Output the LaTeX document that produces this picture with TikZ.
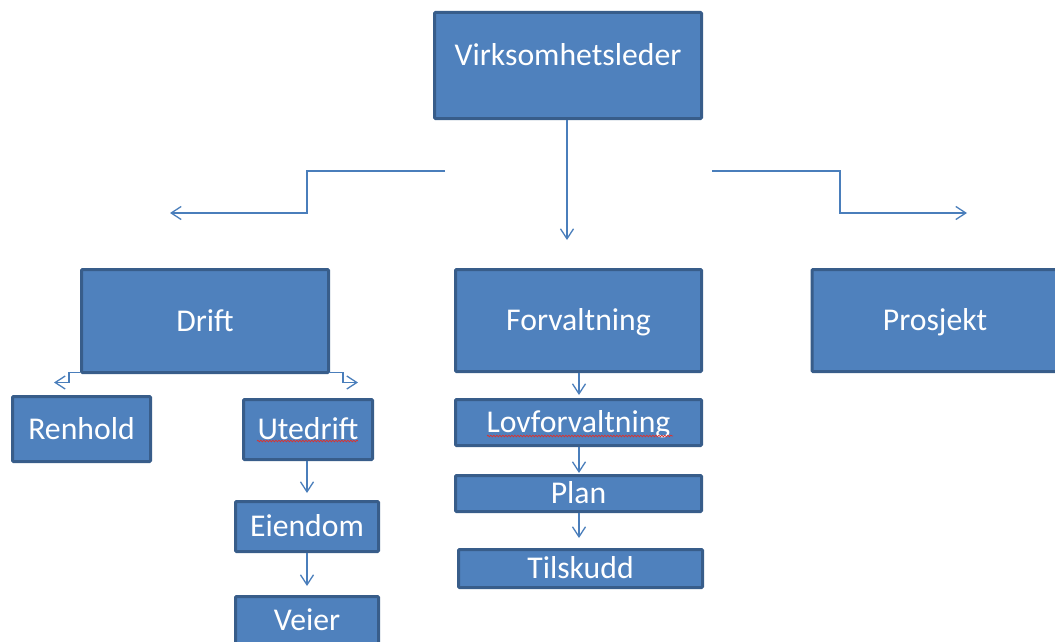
\documentclass[tikz,border=0pt]{standalone}
\usepackage{fontspec}
\setmainfont{Carlito}
\usetikzlibrary{arrows.meta,decorations.pathmorphing,calc}
\definecolor{boxfill}{HTML}{4F81BD}
\definecolor{boxline}{HTML}{385D8A}
\definecolor{conn}{HTML}{4A7EBB}
\definecolor{squig}{HTML}{E0302A}
\begin{document}
\begin{tikzpicture}[x=1pt,y=-1pt,
  orgbox/.style={draw=boxline, line width=3pt, fill=boxfill, text=white,
    font=\fontsize{31.7}{37}\selectfont, inner sep=0pt,
    text height=20pt, text depth=0pt, rounded corners=1pt},
  link/.style={draw=conn, line width=1.3pt, -{Straight Barb[length=10pt,width=13pt]}},
  spell/.style={draw=squig, line width=0.7pt, decorate,
    decoration={snake, segment length=3pt, amplitude=0.8pt}}]
\useasboundingbox (0,0) rectangle (1055,642);

% boxes
\node[orgbox, minimum width=267pt, minimum height=106pt, text depth=20pt] (vl) at (568,65.5) {Virksomhetsleder};
\node[orgbox, minimum width=247pt, minimum height=103pt] (drift) at (205,321) {Drift};
\node[orgbox, minimum width=246pt, minimum height=102pt] (forv) at (578.5,320.5) {Forvaltning};
\node[orgbox, minimum width=246pt, minimum height=102pt] (pros) at (935,320.5) {Prosjekt};
\node[orgbox, minimum width=138pt, minimum height=65pt] (renh) at (81.5,429) {Renhold};
\node[orgbox, minimum width=129pt, minimum height=60pt] (ute) at (308,429.5) {Utedrift};
\node[orgbox, minimum width=143pt, minimum height=50pt] (eien) at (307,526.5) {Eiendom};
\node[orgbox, minimum width=143pt, minimum height=48pt] (veier) at (307,620.5) {Veier};
\node[orgbox, minimum width=246pt, minimum height=46pt] (lov) at (578.5,422.5) {Lovforvaltning};
\node[orgbox, minimum width=246pt, minimum height=36pt] (plan) at (578.5,493.5) {Plan};
\node[orgbox, minimum width=244pt, minimum height=38pt] (tilsk) at (580.5,568.5) {Tilskudd};

% free connector ends
\coordinate (l0) at (445,171);
\coordinate (l1) at (170,213);
\coordinate (r0) at (712,171);
\coordinate (r1) at (967,213);
\coordinate (d1) at (567,240);

% top connectors
\draw[link] (l0) -- (307,171) -- (307,213) -- (l1);
\draw[link] (r0) -- (840,171) -- (840,213) -- (r1);
\draw[link] (vl.south -| d1) -- (d1);

% Drift connectors
\draw[link] ($(drift.south west)+(0,-1.5)$) -- ++(-11,0) -- ++(0,10) -- ++(-15,0);
\draw[link] ($(drift.south east)+(-1,-1.5)$) -- ++(14,0) -- ++(0,10) -- ++(15,0);

% vertical chains
\draw[link, shorten >=7pt] (ute.south -| 307,0) -- (eien.north -| 307,0);
\draw[link, shorten >=9pt] (eien.south) -- (veier.north);
\draw[link, shorten >=3pt] (forv.south -| 579,0) -- (lov.north -| 579,0);
\draw[link, shorten >=1pt] (lov.south -| 579,0) -- (plan.north -| 579,0);
\draw[link, shorten >=10pt] (plan.south -| 579,0) -- (tilsk.north -| 579,0);

% spell-check underlines
\draw[spell] (257,441) -- (358,441);
\draw[spell] (487,436) -- (673,436);
\end{tikzpicture}
\end{document}
